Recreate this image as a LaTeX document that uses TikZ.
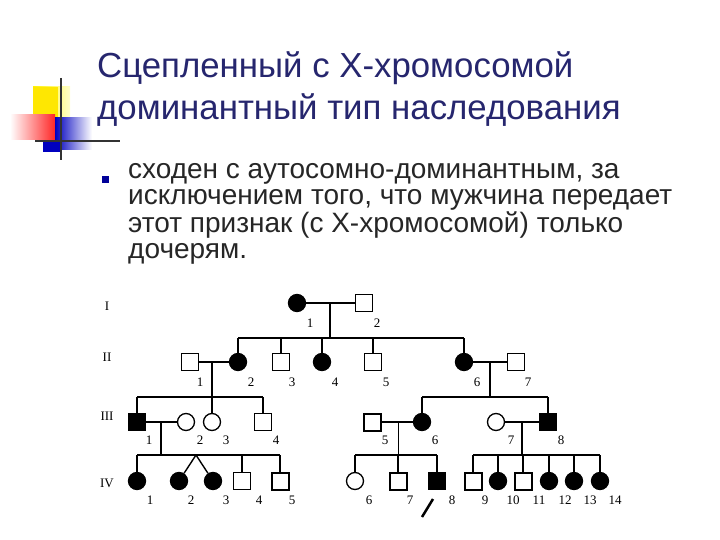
\documentclass[tikz,border=0pt]{standalone}
\usepackage{fontspec}
\setmainfont{Liberation Sans}
\newfontfamily\serif{Liberation Serif}
\begin{document}
\begin{tikzpicture}[x=1pt,y=-1pt,
  m/.style={draw,line width=1.3pt,minimum size=17pt,inner sep=0pt},
  ms/.style={m,rectangle},
  fs/.style={m,rectangle,fill=black},
  mc/.style={m,circle},
  fc/.style={m,circle,fill=black},
  ln/.style={line width=1.4pt},
  lab/.style={font=\serif\fontsize{13}{13}\selectfont,inner sep=0pt}]
\useasboundingbox (0,0) rectangle (720,540);
% logo
\shade[left color=yellow!90!orange,right color=yellow!20] (33,87) rectangle (70,118);
\fill[yellow!90!orange] (33,87) rectangle (58,118);
\shade[left color=white,right color=red!85] (10,115) rectangle (55,140);
\shade[left color=blue!75!black,right color=white] (55,118) rectangle (92,150);
\fill[blue!75!black] (43,140) rectangle (62,152);
\draw[line width=1.5pt,black!80] (61,78) -- (61,160);
\draw[line width=1.5pt,black!80] (35,141) -- (120,141);
% title
\node[anchor=west,inner sep=0pt,text=black!60!blue!70!gray,font=\fontsize{34.8}{34.8}\selectfont] (t1) at (97,68) {Сцепленный с Х-хромосомой};
\node[anchor=west,inner sep=0pt,text=black!60!blue!70!gray,font=\fontsize{34.8}{34.8}\selectfont] (t2) at (97,110) {доминантный тип наследования};
\node[fill=blue!60!black,minimum size=7pt,inner sep=0pt] (b) at (105,180) {};
\node[anchor=north west,inner sep=0pt,align=left,text=black!85,font=\fontsize{28}{26.5}\selectfont] (body) at (128,163) {сходен с аутосомно-доминантным, за\\исключением того, что мужчина передает\\этот признак (с Х-хромосомой) только\\дочерям.};
% generation labels
\foreach \t/\y [count=\i] in {I/306,II/357,III/416,IV/483}
  \node[lab] (g\i) at (107,\y) {\t};
% Gen I
\node[fc] (a1) at (297,303) {}; \node[ms] (a2) at (364,303) {};
\draw[ln] (a1) -- (a2);
\coordinate (ma) at (330,303); \coordinate (sa) at (330,338);
\draw[ln] (ma) -- (sa);
\draw[ln] (238,338) -- (464,338);
% Gen II
\node[ms] (b1) at (190,362) {}; \node[fc] (b2) at (238,362) {};
\node[ms] (b3) at (281,362) {}; \node[fc] (b4) at (322,362) {};
\node[ms] (b5) at (373,362) {}; \node[fc] (b6) at (464,362) {};
\node[ms] (b7) at (516,362) {};
\foreach \n/\x in {2/238,3/281,4/322,5/373,6/464} \draw[ln] (\x,338) -- (b\n);
\draw[ln] (b1) -- (b2); \draw[ln] (b6) -- (b7);
% Gen III
\node[fs] (c1) at (137,422) {}; \node[mc] (c2) at (186,422) {};
\node[mc] (c3) at (212,422) {}; \node[ms] (c4) at (263,422) {};
\node[ms,line width=2pt] (c5) at (372,422) {}; \node[fc] (c6) at (422,422) {};
\node[mc] (c7) at (496,422) {}; \node[fs] (c8) at (548,422) {};
\draw[ln] (212,362) -- (c3);
\draw[ln] (137,397) -- (263,397);
\draw[ln] (137,397) -- (c1); \draw[ln] (263,397) -- (c4);
\draw[ln] (490,362) -- (490,397);
\draw[ln] (422,397) -- (548,397);
\draw[ln] (422,397) -- (c6); \draw[ln] (548,397) -- (c8);
\draw[ln] (c1) -- (c2); \draw[ln] (c5) -- (c6); \draw[ln] (c7) -- (c8);
\draw[ln] (161,422) -- (161,455);
\draw[line width=1pt] (398,422) -- (398,455);
\draw[ln] (522,422) -- (522,455);
% Gen IV
\node[fc] (d1) at (137,481) {}; \node[fc] (d2) at (179,481) {};
\node[fc] (d3) at (213,481) {}; \node[ms] (d4) at (242,481) {};
\node[ms,line width=2pt] (d5) at (280,481) {};
\node[mc] (d6) at (355,481) {}; \node[ms,line width=2pt] (d7) at (398,481) {};
\node[fs] (d8) at (437,481) {};
\node[ms,line width=2pt] (d9) at (473,481) {}; \node[fc] (d10) at (498,481) {};
\node[ms,line width=2pt] (d11) at (523,481) {}; \node[fc] (d12) at (549,481) {};
\node[fc] (d13) at (574,481) {}; \node[fc] (d14) at (600,481) {};
\draw[ln] (137,455) -- (280,455);
\draw[ln] (137,455) -- (d1); \draw[ln] (242,455) -- (d4); \draw[ln] (280,455) -- (d5);
\coordinate (tw) at (196,455);
\draw[ln] (tw) -- (d2); \draw[ln] (tw) -- (d3);
\draw[ln] (355,455) -- (437,455);
\draw[ln] (355,455) -- (d6); \draw[ln] (398,455) -- (d7); \draw[ln] (437,455) -- (d8);
\draw[ln] (473,455) -- (600,455);
\foreach \n/\x in {9/473,10/498,11/523,12/549,13/574,14/600} \draw[ln] (\x,455) -- (d\n);
\coordinate (ar0) at (422,517); \coordinate (ar1) at (433,499);
\draw[line width=2.5pt] (ar0) -- (ar1);
% numbers
\foreach \t/\x/\y in {1/310/323,2/377/323,
  1/200/382,2/251/382,3/292/382,4/335/382,5/386/382,6/477/382,7/528/382,
  1/149/440,2/200/440,3/226/440,4/276/440,5/385/440,6/435/440,7/511/440,8/561/440,
  1/150/500,2/191/500,3/226/500,4/259/500,5/292/500,6/369/500,7/410/500,8/452/500,
  9/485/500,10/513/500,11/539/500,12/565/500,13/590/500,14/615/500}
  \node[lab] at (\x,\y) {\t};
\end{tikzpicture}
\end{document}
